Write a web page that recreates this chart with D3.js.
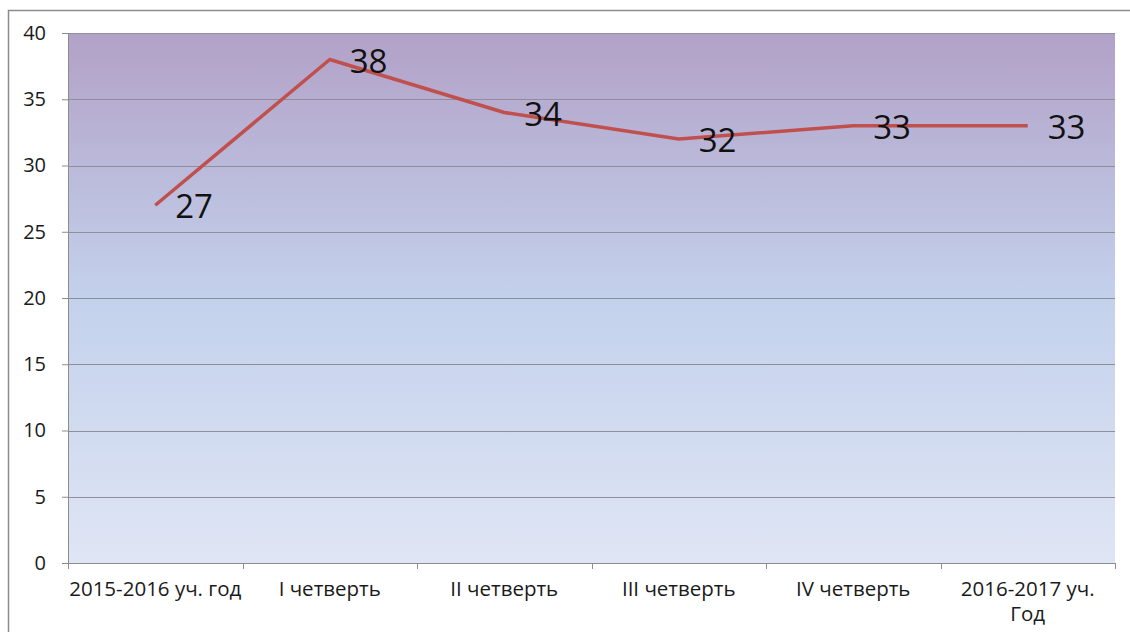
<!DOCTYPE html>
<html>
<head>
<meta charset="UTF-8">
<title>Chart</title>
<script src="https://cdn.jsdelivr.net/npm/d3@7"></script>
<style>
  body { margin: 0; background: #fff; }
  svg text { font-family: "Open Sans", "DejaVu Sans", sans-serif; }
</style>
</head>
<body>
<svg id="chart" width="1130" height="632"></svg>
<script>
// data
const categories = ["2015-2016 уч. год", "I четверть", "II четверть", "III четверть", "IV четверть", "2016-2017 уч. Год"];
const values = [27, 38, 34, 32, 33, 33];
const yTicks = [0, 5, 10, 15, 20, 25, 30, 35, 40];

const svg = d3.select("#chart");

// outer frame of the chart
svg.append("rect")
    .attr("x", 8.5).attr("y", 10.5)
    .attr("width", 1140).attr("height", 640)
    .attr("fill", "#fff")
    .attr("stroke", "#8c8c8c")
    .attr("stroke-width", 1.5);

const margin = { top: 33, right: 15, bottom: 69, left: 68 };
const width = 1130 - margin.left - margin.right;
const height = 632 - margin.top - margin.bottom;

const g = svg.append("g").attr("transform", "translate(" + margin.left + "," + margin.top + ")");

const x = d3.scaleBand().domain(categories).range([0, width]);
const y = d3.scaleLinear().domain([0, 40]).range([height, 0]);

// gradient background of plot area
const defs = svg.append("defs");
const grad = defs.append("linearGradient")
    .attr("id", "bg").attr("x1", 0).attr("y1", 0).attr("x2", 0).attr("y2", 1);
grad.append("stop").attr("offset", "0%").attr("stop-color", "#b2a1c7");
grad.append("stop").attr("offset", "50%").attr("stop-color", "#c3d1ec");
grad.append("stop").attr("offset", "100%").attr("stop-color", "#dfe5f4");

g.append("rect")
    .attr("width", width).attr("height", height)
    .attr("fill", "url(#bg)");

// gridlines
g.append("g")
    .selectAll("line")
    .data(yTicks)
    .join("line")
    .attr("x1", 0).attr("x2", width)
    .attr("y1", d => Math.round(y(d)) + 0.5)
    .attr("y2", d => Math.round(y(d)) + 0.5)
    .attr("stroke", "#8f8f9a")
    .attr("stroke-width", 1);

// y axis
const yAxis = g.append("g")
    .call(d3.axisLeft(y).tickValues(yTicks).tickSize(6).tickPadding(16));
yAxis.select(".domain").attr("stroke", "#8c8c8c");
yAxis.selectAll(".tick line").attr("stroke", "#8c8c8c");
yAxis.selectAll(".tick text")
    .attr("font-size", 20)
    .attr("fill", "#1a1a1a")
    .attr("font-family", "Open Sans, sans-serif");

// x axis ticks at band edges
const xEdges = categories.map(c => x(c)).concat([width]);
g.append("g")
    .selectAll("line")
    .data(xEdges)
    .join("line")
    .attr("x1", d => Math.round(d) + 0.5).attr("x2", d => Math.round(d) + 0.5)
    .attr("y1", height).attr("y2", height + 6)
    .attr("stroke", "#8c8c8c");
g.append("line")
    .attr("x1", 0).attr("x2", width)
    .attr("y1", height + 0.5).attr("y2", height + 0.5)
    .attr("stroke", "#8c8c8c");

// x labels
const xl = g.append("g")
    .selectAll("text")
    .data(categories)
    .join("text")
    .attr("x", d => x(d) + x.bandwidth() / 2)
    .attr("y", height + 33)
    .attr("text-anchor", "middle")
    .attr("font-size", 20.5)
    .attr("fill", "#1a1a1a");
xl.each(function (d) {
    const t = d3.select(this);
    if (d === "2016-2017 уч. Год") {
        // wrapped label, two separate lines
        t.text("2016-2017 уч.");
        d3.select(this.parentNode).append("text")
            .attr("x", x(d) + x.bandwidth() / 2)
            .attr("y", height + 58)
            .attr("text-anchor", "middle")
            .attr("font-size", 20.5)
            .attr("fill", "#1a1a1a")
            .text("Год");
    } else {
        t.text(d);
    }
});

// line
const line = d3.line()
    .x((d, i) => x(categories[i]) + x.bandwidth() / 2)
    .y(d => y(d));

g.append("path")
    .datum(values)
    .attr("fill", "none")
    .attr("stroke", "#c0504d")
    .attr("stroke-width", 3.5)
    .attr("stroke-linejoin", "round")
    .attr("d", line);

// data labels
g.append("g")
    .selectAll("text")
    .data(values)
    .join("text")
    .attr("x", (d, i) => x(categories[i]) + x.bandwidth() / 2 + 20)
    .attr("y", d => y(d) + 13)
    .attr("font-size", 33)
    .attr("fill", "#111")
    .text(d => d);
</script>
</body>
</html>
